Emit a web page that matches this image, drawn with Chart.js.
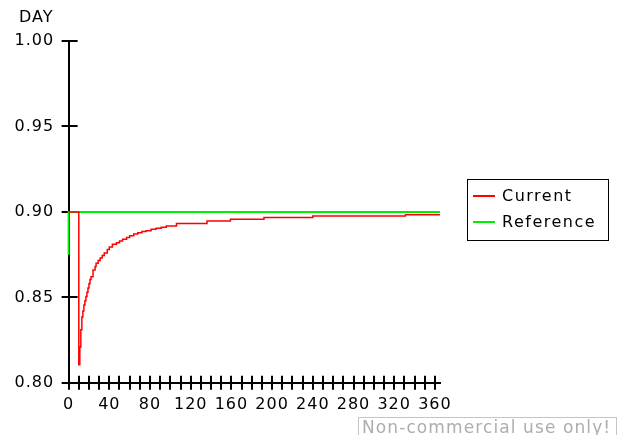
<!DOCTYPE html>
<html>
<head>
<meta charset="utf-8">
<script src="https://cdn.jsdelivr.net/npm/chart.js@4/dist/chart.umd.min.js"></script>
<style>
  html, body { margin: 0; padding: 0; background: #fff; }
  canvas { display: block; }
</style>
</head>
<body>
<canvas id="chart" width="619" height="435"></canvas>
<script>
// ---------- data ----------
const seriesNames = ["Current", "Reference"];

const currentDays   = [0, 10, 11, 12, 13, 14, 15, 16, 17, 18, 19, 20, 21, 22, 24, 26, 27, 29, 31, 33, 35, 38, 40, 43, 47, 50, 53, 57, 60, 64, 68, 72, 76, 81, 86, 91, 96, 106, 136, 159, 192, 240, 331, 365];
const currentValues = [0.900, 0.8105, 0.821, 0.831, 0.8385, 0.842, 0.8455, 0.848, 0.8505, 0.853, 0.8555, 0.858, 0.8605, 0.862, 0.866, 0.868, 0.870, 0.8715, 0.873, 0.8745, 0.876, 0.878, 0.8795, 0.881, 0.882, 0.883, 0.884, 0.885, 0.886, 0.887, 0.8878, 0.8885, 0.889, 0.8898, 0.8905, 0.891, 0.8918, 0.8932, 0.8947, 0.8957, 0.8967, 0.8976, 0.8984, 0.8984];

const referenceDays   = [0, 0, 365];
const referenceValues = [0.875, 0.900, 0.900];

const xLabelTicks = [0, 40, 80, 120, 160, 200, 240, 280, 320, 360];
const yTicks      = [0.80, 0.85, 0.90, 0.95, 1.00];

const FONT = "'DejaVu Sans', Verdana, sans-serif";
const SPACING = "1px";

// ---------- helpers ----------
function toPoints(xs, ys) {
  return xs.map((x, i) => ({ x, y: ys[i] }));
}

// letter spacing like the original renderer
const spacing = {
  id: "spacing",
  beforeLayout(chart) { chart.ctx.letterSpacing = SPACING; },
  beforeDraw(chart)   { chart.ctx.letterSpacing = SPACING; },
};

// tick marks that cross the axis lines
const crossTicks = {
  id: "crossTicks",
  beforeDatasetsDraw(chart) {
    const { ctx, scales: { x, y } } = chart;
    ctx.save();
    ctx.strokeStyle = "#000";
    ctx.lineWidth = 2;
    ctx.beginPath();
    x.ticks.forEach((t) => {
      const px = Math.round(x.getPixelForValue(t.value));
      ctx.moveTo(px, y.bottom - 7);
      ctx.lineTo(px, y.bottom + 7);
    });
    y.ticks.forEach((t) => {
      const py = Math.round(y.getPixelForValue(t.value));
      ctx.moveTo(x.left - 7, py);
      ctx.lineTo(x.left + 9, py);
    });
    ctx.stroke();
    ctx.restore();
  },
};

// legend, axis caption and watermark
const extras = {
  id: "extras",
  afterDraw(chart) {
    const { ctx } = chart;
    ctx.save();
    ctx.font = "16px " + FONT;
    ctx.textBaseline = "middle";
    ctx.textAlign = "left";

    // legend
    ctx.letterSpacing = "1.5px";
    ctx.strokeStyle = "#000";
    ctx.lineWidth = 1;
    ctx.strokeRect(467.5, 179.5, 141, 61);
    chart.data.datasets.forEach((ds, i) => {
      const yy = 196 + i * 26;
      ctx.strokeStyle = ds.borderColor;
      ctx.lineWidth = 2;
      ctx.beginPath();
      ctx.moveTo(473, yy);
      ctx.lineTo(495, yy);
      ctx.stroke();
      ctx.fillStyle = "#000";
      ctx.fillText(ds.label, 502, yy + 1);
    });

    // axis caption
    ctx.letterSpacing = SPACING;
    ctx.fillStyle = "#000";
    ctx.fillText("DAY", 19, 18);

    // watermark
    ctx.strokeStyle = "#c4c4c4";
    ctx.lineWidth = 1;
    ctx.strokeRect(358.5, 417.5, 258, 30);
    ctx.fillStyle = "#adadad";
    ctx.font = "17px " + FONT;
    ctx.letterSpacing = "1.1px";
    ctx.textBaseline = "alphabetic";
    ctx.fillText("Non-commercial use only!", 362, 433);
    ctx.restore();
  },
};

new Chart(document.getElementById("chart"), {
  type: "line",
  data: {
    datasets: [
      {
        label: seriesNames[0],
        data: toPoints(currentDays, currentValues),
        borderColor: "#ff0000",
        backgroundColor: "#ff0000",
        borderWidth: 1.5,
        pointRadius: 0,
        stepped: true,
        fill: false,
        clip: false,
      },
      {
        label: seriesNames[1],
        data: toPoints(referenceDays, referenceValues),
        borderColor: "#00ee00",
        backgroundColor: "#00ee00",
        borderWidth: 2,
        pointRadius: 0,
        stepped: true,
        fill: false,
        clip: false,
      },
    ],
  },
  options: {
    responsive: false,
    animation: false,
    events: [],
    layout: { padding: { top: 41, left: 0, right: 179, bottom: 9 } },
    plugins: {
      title: { display: false },
      tooltip: { enabled: false },
      legend: { display: false },
    },
    scales: {
      x: {
        type: "linear",
        min: 0,
        max: 365,
        grid: { display: false, drawTicks: false },
        border: { display: true, color: "#000", width: 2 },
        ticks: {
          stepSize: 10,
          autoSkip: false,
          includeBounds: false,
          maxRotation: 0,
          padding: 12,
          color: "#000",
          font: { family: FONT, size: 16 },
          callback: (v) => (xLabelTicks.includes(v) ? String(v) : ""),
        },
      },
      y: {
        min: yTicks[0],
        max: yTicks[yTicks.length - 1],
        grid: { display: false, drawTicks: false },
        border: { display: true, color: "#000", width: 2 },
        ticks: {
          stepSize: 0.05,
          padding: 14.5,
          color: "#000",
          font: { family: FONT, size: 16 },
          callback: (v) => Number(v).toFixed(2),
        },
      },
    },
  },
  plugins: [spacing, crossTicks, extras],
});
</script>
</body>
</html>
